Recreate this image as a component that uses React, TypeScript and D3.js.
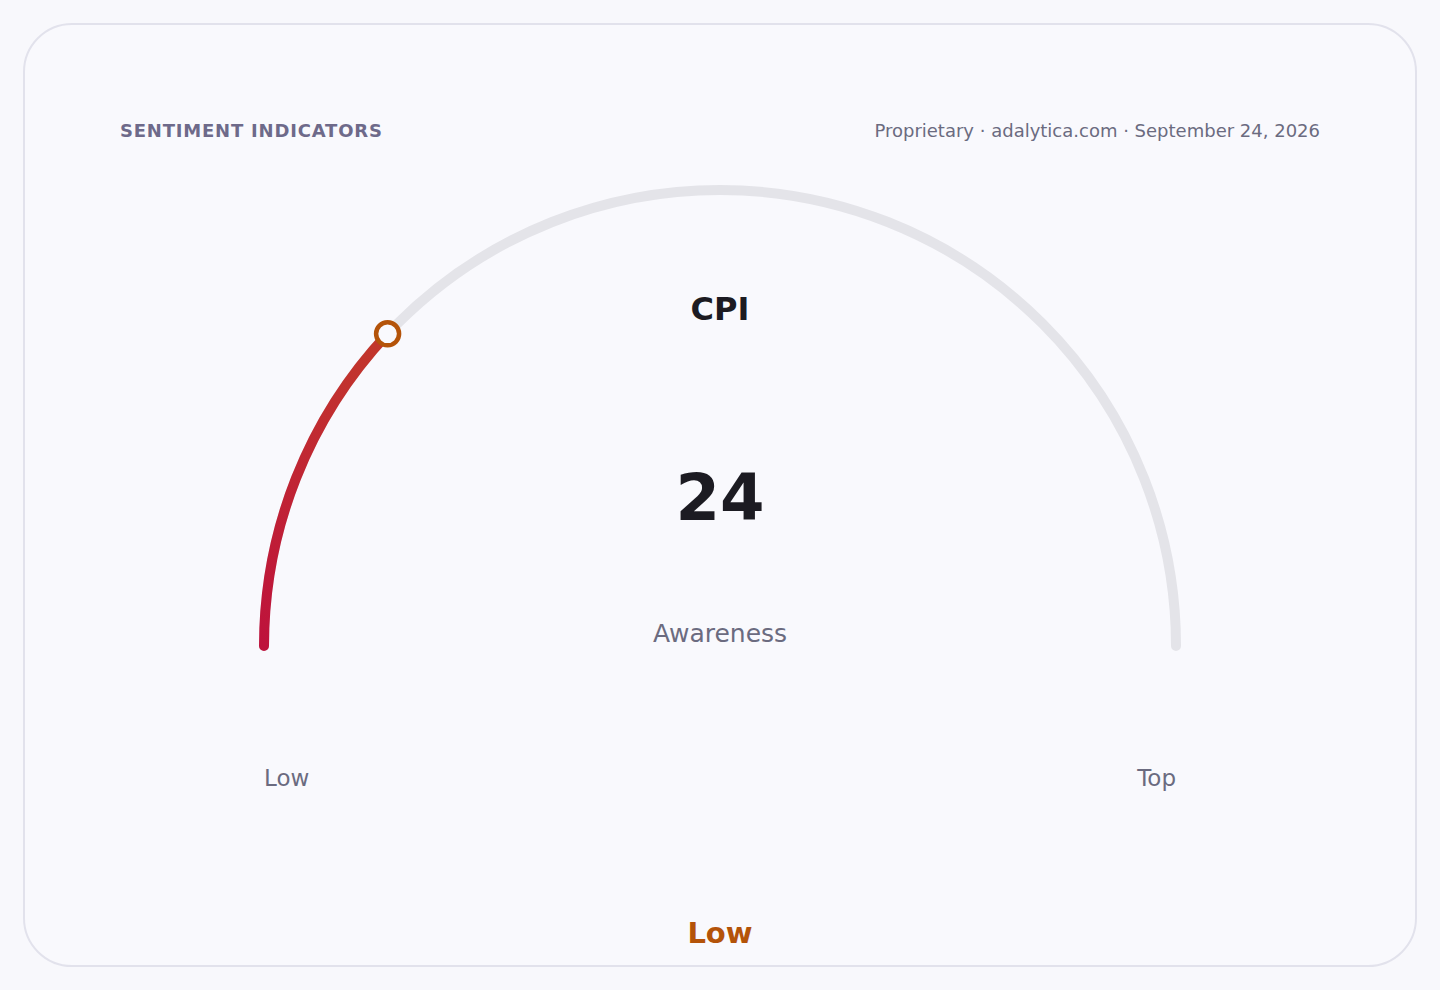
import React from "react";
import * as d3 from "d3";

const title = "SENTIMENT INDICATORS";
const sourceText = "Proprietary · adalytica.com · September 24, 2026";
const metricName = "CPI";
const metricValue = 24;
const metricSubtitle = "Awareness";
const domainMin = 0;
const domainMax = 100;
const endLabels = ["Low", "Top"];
const statusLabel = "Low";

const W = 1440;
const H = 990;
const FONT = "'DejaVu Sans', Verdana, sans-serif";

export default function App() {
  const cx = 720;
  const cy = 646;
  const r = 456;
  const sw = 10;
  // angle measured from the left end (PI) to the right end (0), SVG y downward
  const angle = d3.scaleLinear().domain([domainMin, domainMax]).range([Math.PI, 2 * Math.PI]);
  const arcPath = (v0: number, v1: number) => {
    const p = d3.path();
    const a0 = angle(v0);
    const a1 = angle(v1);
    p.moveTo(cx + r * Math.cos(a0), cy + r * Math.sin(a0));
    p.arc(cx, cy, r, a0, a1, false);
    return p.toString();
  };
  const trackPath = arcPath(domainMin, domainMax);
  const valuePath = arcPath(domainMin, metricValue);
  const a = angle(metricValue);
  const px = cx + r * Math.cos(a);
  const py = cy + r * Math.sin(a);
  const a0 = angle(domainMin);
  const sx = cx + r * Math.cos(a0);
  const sy = cy + r * Math.sin(a0);

  return (
    <svg
      width={W}
      height={H}
      viewBox={`0 0 ${W} ${H}`}
      style={{ position: "fixed", left: 0, top: 0, display: "block" }}
      fontFamily={FONT}
    >
      <defs>
        <linearGradient id="valGrad" gradientUnits="userSpaceOnUse" x1={sx} y1={sy} x2={px} y2={py}>
          <stop offset="0%" stopColor="#be123c" />
          <stop offset="100%" stopColor="#c2382b" />
        </linearGradient>
      </defs>
      <rect x={0} y={0} width={W} height={H} fill="#f8f8fc" />
      <rect x={24} y={24} width={1392} height={942} rx={48} ry={48} fill="#f9f9fd" stroke="#e2e2ec" strokeWidth={2} />
      <text x={120} y={137} fontSize={18} fontWeight={700} fill="#6e6a8a" letterSpacing={0.8}>
        {title}
      </text>
      <text x={1320} y={137} fontSize={18} fill="#6b6b80" textAnchor="end">
        {sourceText}
      </text>
      <path d={trackPath} fill="none" stroke="#e4e4e9" strokeWidth={sw} strokeLinecap="round" />
      <path d={valuePath} fill="none" stroke="url(#valGrad)" strokeWidth={sw} strokeLinecap="round" />
      <circle cx={px} cy={py} r={11.5} fill="#f9f9fd" stroke="#b45309" strokeWidth={4.5} />
      <text x={cx} y={320} fontSize={32} fontWeight={700} fill="#1c1b22" textAnchor="middle">
        {metricName}
      </text>
      <text x={cx} y={520} fontSize={64} fontWeight={700} fill="#1c1b22" textAnchor="middle">
        {metricValue}
      </text>
      <text x={cx} y={642} fontSize={25} fill="#6b6b80" textAnchor="middle">
        {metricSubtitle}
      </text>
      <text x={264} y={786} fontSize={23} fill="#6b6b80" textAnchor="start">
        {endLabels[0]}
      </text>
      <text x={1176} y={786} fontSize={23} fill="#6b6b80" textAnchor="end">
        {endLabels[1]}
      </text>
      <text x={cx} y={943} fontSize={29} fontWeight={700} fill="#b45309" textAnchor="middle">
        {statusLabel}
      </text>
    </svg>
  );
}
